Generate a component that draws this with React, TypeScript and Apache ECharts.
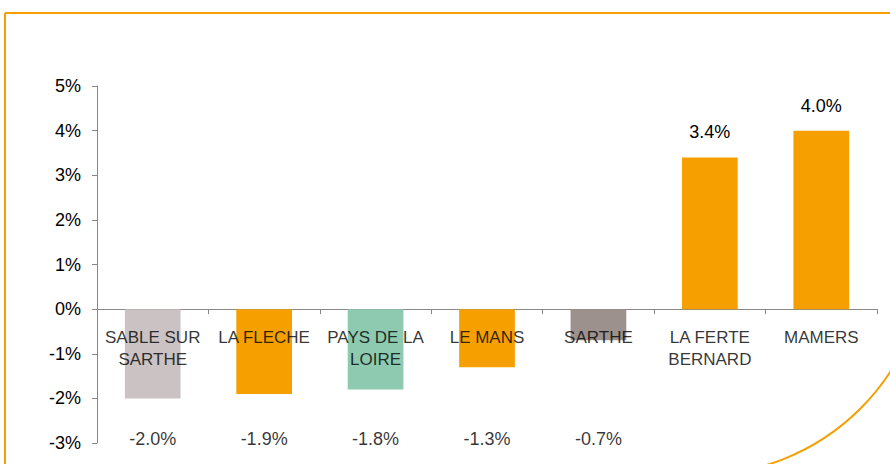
import React, { useEffect, useRef } from "react";
import * as echarts from "echarts";

const categories = [
  "SABLE SUR\nSARTHE",
  "LA FLECHE",
  "PAYS DE LA\nLOIRE",
  "LE MANS",
  "SARTHE",
  "LA FERTE\nBERNARD",
  "MAMERS",
];
const values = [-2.0, -1.9, -1.8, -1.3, -0.7, 3.4, 4.0];
const barColors = ["#CBC2C3", "#F5A000", "#8DCAB0", "#F5A000", "#9C918D", "#F5A000", "#F5A000"];
const yTicks = { min: -3, max: 5, interval: 1 };
const NEG_LABEL_LEVEL = -2.9;
const CATEGORY_LABEL_LEVEL = 0;

export default function App() {
  const ref = useRef<HTMLDivElement>(null);
  useEffect(() => {
    if (!ref.current) return;
    const chart = echarts.init(ref.current, null, { renderer: "svg" });
    const font = "'Liberation Sans', Arial, sans-serif";
    chart.setOption({
      animation: false,
      backgroundColor: "#ffffff",
      graphic: [
        {
          type: "rect",
          z: 0,
          silent: true,
          shape: { x: 5, y: 13, width: 922, height: 462, r: [0, 0, 227, 0] },
          style: { fill: "none", stroke: "#F5A000", lineWidth: 2 },
        },
      ],
      grid: { left: 97, right: 13, top: 86, bottom: 21, containLabel: false, outerBoundsMode: "none" },
      xAxis: {
        type: "category",
        data: categories,
        axisLine: { onZero: true, lineStyle: { color: "#888888", width: 1 } },
        axisTick: { show: true, interval: 0, length: 5, lineStyle: { color: "#888888" } },
        axisLabel: { show: false },
      },
      yAxis: {
        type: "value",
        min: yTicks.min,
        max: yTicks.max,
        interval: yTicks.interval,
        splitLine: { show: false },
        axisLine: { show: true, lineStyle: { color: "#888888", width: 1 } },
        axisTick: { show: true, length: 5, lineStyle: { color: "#888888" } },
        axisLabel: {
          formatter: "{value}%",
          margin: 16,
          color: "#000000",
          fontFamily: font,
          fontSize: 18,
        },
      },
      series: [
        {
          type: "bar",
          barWidth: "50%",
          z: 2,
          data: values.map((v, i) => ({ value: v, itemStyle: { color: barColors[i] } })),
          label: {
            show: true,
            position: "top",
            distance: 16,
            color: "#000000",
            fontFamily: font,
            fontSize: 18,
            formatter: (p: any) => (p.value > 0 ? p.value.toFixed(1) + "%" : ""),
          },
        },
        {
          type: "scatter",
          symbolSize: 0,
          silent: true,
          z: 5,
          data: values.map((v) => (v < 0 ? NEG_LABEL_LEVEL : null)),
          label: {
            show: true,
            position: "inside",
            color: "#000000",
            fontFamily: font,
            fontSize: 18,
            formatter: (p: any) => values[p.dataIndex].toFixed(1) + "%",
          },
        },
        {
          type: "scatter",
          symbolSize: 0,
          silent: true,
          z: 6,
          data: categories.map(() => CATEGORY_LABEL_LEVEL),
          label: {
            show: true,
            position: "bottom",
            distance: 17,
            color: "#000000",
            fontFamily: font,
            fontSize: 17,
            lineHeight: 22,
            align: "center",
            formatter: (p: any) => categories[p.dataIndex],
          },
        },
      ],
    });
    return () => chart.dispose();
  }, []);
  return <div ref={ref} style={{ width: 890, height: 464, position: "absolute", left: 0, top: 0 }} />;
}
